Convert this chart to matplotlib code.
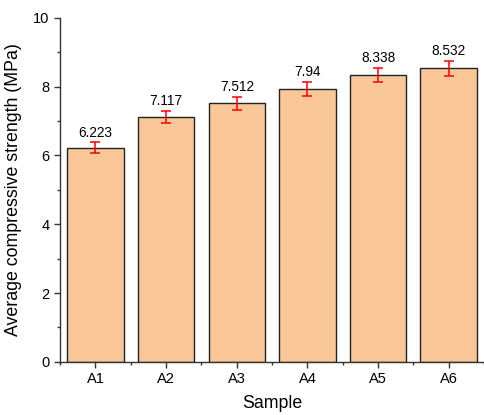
import numpy as np
import matplotlib.pyplot as plt
from matplotlib.ticker import MultipleLocator

plt.rcParams['font.family'] = ['Liberation Sans', 'DejaVu Sans']

samples = ['A1', 'A2', 'A3', 'A4', 'A5', 'A6']
strength = [6.223, 7.117, 7.512, 7.94, 8.338, 8.532]
errors = [0.155, 0.17, 0.18, 0.2, 0.2, 0.21]

fig = plt.figure(figsize=(4.85, 4.15), dpi=100)
ax = fig.add_axes([0.124, 0.128, 0.874, 0.829])

x = np.arange(1, len(samples) + 1)
ax.bar(x, strength, width=0.8, color='#FAC898', edgecolor='#222222', linewidth=1.0, zorder=2)
ax.errorbar(x, strength, yerr=errors, fmt='none', ecolor='#FF0000', elinewidth=1.1,
            capsize=3.5, capthick=1.1, zorder=3)

# value labels sit just above the error bar caps
for xi, v, e in zip(x, strength, errors):
    ax.annotate(f'{v:g}', (xi, v + e), xytext=(0, 2), textcoords='offset points',
                ha='center', va='bottom', fontsize=9.8)

ax.set_xlim(0.5, 6.5)
ax.set_ylim(0, 10)
ax.set_xticks(x)
ax.set_xticklabels(samples)
ax.set_xticks(np.arange(0.5, 7, 1), minor=True)
ax.yaxis.set_major_locator(MultipleLocator(2))
ax.yaxis.set_minor_locator(MultipleLocator(1))

for s in ['top', 'right']:
    ax.spines[s].set_visible(False)
for s in ['left', 'bottom']:
    ax.spines[s].set_color('#333333')
    ax.spines[s].set_linewidth(1.0)

ax.tick_params(which='major', direction='out', length=4.5, width=1.0, color='#333333',
               labelsize=10.5, pad=3)
ax.tick_params(which='minor', direction='out', length=2.5, width=1.0, color='#333333')

ax.set_xlabel('Sample', fontsize=12.8, labelpad=6)
ax.set_ylabel('Average compressive strength (MPa)', fontsize=12.8, labelpad=8)

fig.savefig('out.png', dpi=100)
